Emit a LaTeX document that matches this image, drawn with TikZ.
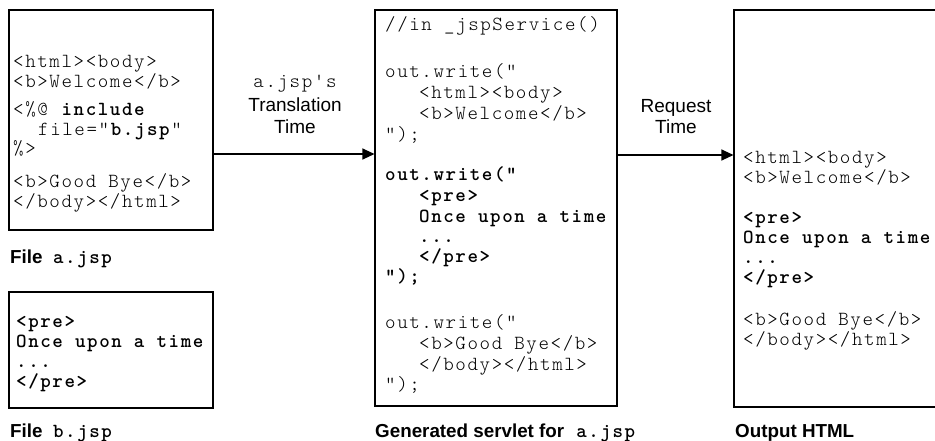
\documentclass[tikz,border=0pt]{standalone}
\usepackage{fontspec}
\setsansfont{Liberation Sans}
\setmonofont{lmmonolt10-regular}[Extension=.otf, BoldFont=lmmonolt10-bold, LetterSpace=8]
\usetikzlibrary{arrows.meta}
\newcommand\cfont{\fontsize{20}{20}\selectfont\ttfamily}
\newcommand\lfont{\fontsize{19}{20}\selectfont\sffamily}
\newcommand\capfont{\fontsize{18.8}{20}\selectfont\sffamily\bfseries}
\tikzset{
  box/.style={draw, line width=1.1pt, inner sep=0pt},
  code/.style={anchor=base west, inner sep=0pt, font=\cfont},
  bcode/.style={code, font=\cfont\bfseries},
  lab/.style={anchor=base, inner sep=0pt, font=\lfont},
  captext/.style={anchor=base west, inner sep=0pt, font=\capfont},
  conn/.style={line width=1.1pt, -{Triangle[length=12pt,width=11pt]}}
}
\begin{document}
\begin{tikzpicture}[x=1pt,y=-1pt]
\useasboundingbox (0,0) rectangle (935,440);
\clip (0,0) rectangle (935,440);
% boxes
\node[box, minimum width=204pt, minimum height=220pt] (boxA) at (111,120) {};
\node[box, minimum width=204pt, minimum height=116pt] (boxB) at (111,350) {};
\node[box, minimum width=242pt, minimum height=396pt] (boxS) at (496,208) {};
\node[box, minimum width=240pt, minimum height=397pt] (boxO) at (854,208.5) {};
% a.jsp
\node[code] (a1) at (13,67) {<html><body>};
\node[code] (a2) at (13,87) {<b>Welcome</b>};
\node[code] (a3) at (13,115) {<\%@ \textbf{include}};
\node[code] (a4) at (38,135) {file="\textbf{b.jsp}”};
\node[code] (a5) at (13,154) {\%>};
\node[code] (a6) at (13,187) {<b>Good Bye</b>};
\node[code] (a7) at (13,207) {</body></html>};
% b.jsp
\node[bcode] (b1) at (16,327) {<pre>};
\node[bcode] (b2) at (16,347) {Once upon a time};
\node[bcode] (b3) at (16,367) {...};
\node[bcode] (b4) at (16,387) {</pre>};
% servlet
\node[code] (s1) at (385,30) {//in \_jspService()};
\node[code] (s2) at (385,77) {out.write(”};
\node[code] (s3) at (419,98) {<html><body>};
\node[code] (s4) at (419,119) {<b>Welcome</b>};
\node[code] (s5) at (385,140) {");};
\node[bcode] (s6) at (385,180) {out.write("};
\node[bcode] (s7) at (419,201) {<pre>};
\node[bcode] (s8) at (419,222) {Once upon a time};
\node[bcode] (s9) at (419,242) {...};
\node[bcode] (s10) at (419,262) {</pre>};
\node[bcode] (s11) at (385,282) {");};
\node[code] (s12) at (385,328) {out.write("};
\node[code] (s13) at (419,349) {<b>Good Bye</b>};
\node[code] (s14) at (419,370) {</body></html>};
\node[code] (s15) at (385,390) {");};
% output
\node[code] (o1) at (743,163) {<html><body>};
\node[code] (o2) at (743,183) {<b>Welcome</b>};
\node[bcode] (o3) at (743,223) {<pre>};
\node[bcode] (o4) at (743,243) {Once upon a time};
\node[bcode] (o5) at (743,263) {...};
\node[bcode] (o6) at (743,283) {</pre>};
\node[code] (o7) at (743,325) {<b>Good Bye</b>};
\node[code] (o8) at (743,345) {</body></html>};
% labels
\node[lab, font=\cfont] (t1) at (295,87) {a.jsp's};
\node[lab] (t2) at (295,111) {Translation};
\node[lab] (t3) at (295,133) {Time};
\node[lab] (r1) at (676,112) {Request};
\node[lab] (r2) at (676,133) {Time};
% captions
\node[captext] (c1) at (10,263) {File\hspace{10.5pt}{\cfont\bfseries a.jsp}};
\node[captext] (c2) at (10,437) {File\hspace{10.5pt}{\cfont\bfseries b.jsp}};
\node[captext] (c3) at (375,437) {Generated servlet for\hspace{12pt}{\cfont\bfseries a.jsp}};
\node[captext] (c4) at (735,437) {Output HTML};
% connectors
\draw[conn] (boxA.east |- 0,154) -- (boxS.west |- 0,154);
\draw[conn] (boxS.east |- 0,155) -- (boxO.west |- 0,155);
\end{tikzpicture}
\end{document}
